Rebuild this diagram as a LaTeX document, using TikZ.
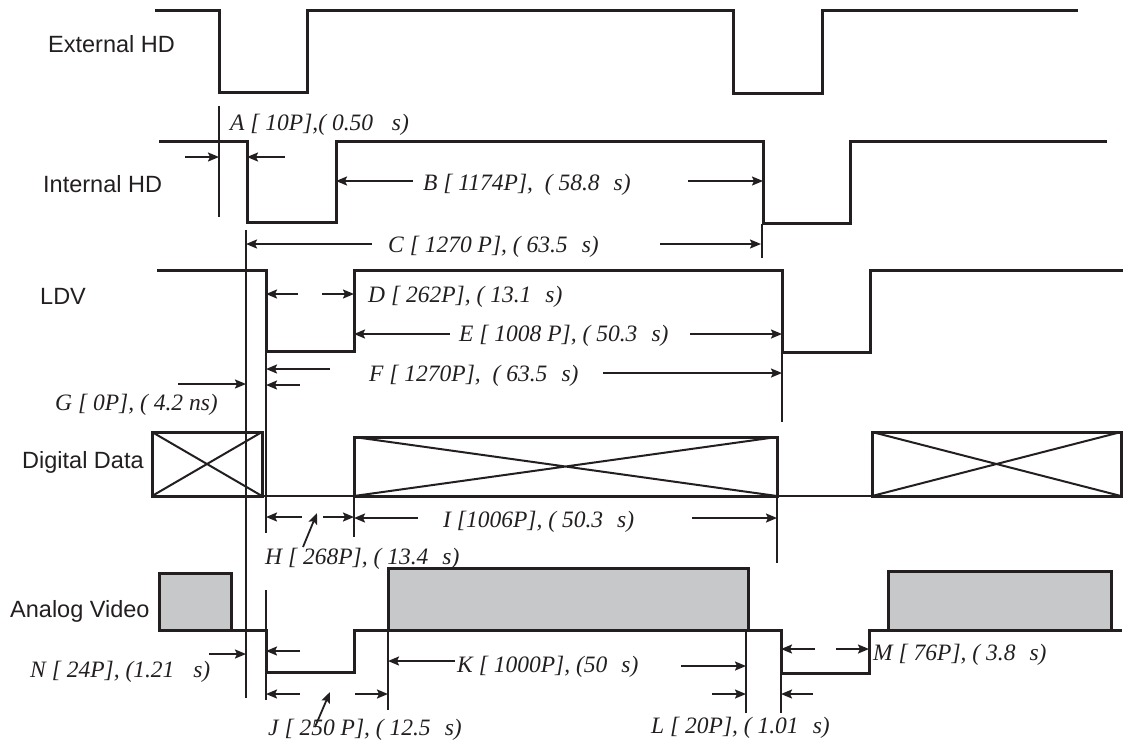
\documentclass[tikz,border=0pt]{standalone}
\usepackage{fontspec}
\setmainfont{Liberation Serif}
\newfontfamily\arialf{Liberation Sans}
\usetikzlibrary{arrows.meta}
\definecolor{ink}{HTML}{231F20}
\definecolor{vid}{HTML}{C7C8CA}
\begin{document}
\begin{tikzpicture}[x=1pt,y=-1pt,
  sig/.style={draw=ink,line width=3pt,line join=miter},
  refline/.style={draw=ink,line width=1.3pt},
  dimarrow/.style={draw=ink,line width=1.8pt,-{Stealth[length=11pt,width=9pt,inset=2pt]}},
  lab/.style={anchor=base west,inner sep=0pt,text=ink,font=\fontsize{23.5}{28}\selectfont\itshape},
  signame/.style={anchor=base west,inner sep=0pt,text=ink,font=\arialf\fontsize{23.5}{28}\selectfont},
  xbox/.style={draw=ink,line width=3pt},
  xdiag/.style={draw=ink,line width=2pt},
  vbox/.style={draw=ink,fill=vid,line width=3pt},
]
\useasboundingbox (0,0) rectangle (1123,740);

% ---- signal names
\node[signame] (nExt) at (48,52) {External HD};
\node[signame] (nInt) at (43,192) {Internal HD};
\node[signame] (nLDV) at (40,304) {LDV};
\node[signame] (nDig) at (22,468) {Digital Data};
\node[signame] (nAna) at (10,617) {Analog Video};

% ---- waveforms
\draw[sig] (155,10) -- (219,10) -- (219,92) -- (307,92) -- (307,10) -- (733,10) -- (733,93) -- (822,93) -- (822,10) -- (1078,10);
\draw[sig] (159,141) -- (247,141) -- (247,222) -- (336,222) -- (336,141) -- (763,141) -- (763,223) -- (850,223) -- (850,141) -- (1107,141);
\draw[sig] (157,270) -- (266,270) -- (266,351) -- (354,351) -- (354,270) -- (782,270) -- (782,352) -- (870,352) -- (870,270) -- (1123,270);

% digital data
\draw[refline] (262,496) -- (354,496);
\draw[refline] (777,496) -- (872,496);
\draw[xbox] (152,432) rectangle (262,496);
\draw[xdiag] (152,432) -- (262,496) (152,496) -- (262,432);
\draw[xbox] (354,437) rectangle (777,496);
\draw[xdiag] (354,437) -- (777,496) (354,496) -- (777,437);
\draw[xbox] (872,432) rectangle (1121,496);
\draw[xdiag] (872,432) -- (1121,496) (872,496) -- (1121,432);

% analog video
\draw[vbox] (159,573) rectangle (231,630);
\draw[vbox] (388,568) rectangle (748,630);
\draw[vbox] (888,571) rectangle (1111,630);
\draw[sig] (158,630) -- (266,630) -- (266,672) -- (354,672) -- (354,630) -- (781,630) -- (781,673) -- (869,673) -- (869,630) -- (1122,630);

% ---- reference lines
\draw[refline] (219,106) -- (219,217);
\draw[refline] (246,230) -- (246,698);
\draw[refline] (762,224) -- (762,258);
\draw[refline] (266,351) -- (266,533);
\draw[refline] (782,352) -- (782,422);
\draw[refline] (354,496) -- (354,537);
\draw[refline] (777,496) -- (777,563);
\draw[refline] (266,590) -- (266,700);
\draw[refline] (388,630) -- (388,710);
\draw[refline] (746,630) -- (746,713);
\draw[refline] (781,673) -- (781,713);

% ---- dimension arrows
% A
\draw[dimarrow] (185,157) -- (219,157);
\draw[dimarrow] (285,157) -- (247,157);
% B
\draw[dimarrow] (413,181) -- (336,181);
\draw[dimarrow] (688,181) -- (763,181);
% C
\draw[dimarrow] (372,244) -- (246,244);
\draw[dimarrow] (660,244) -- (761,244);
% D
\draw[dimarrow] (298,294) -- (266,294);
\draw[dimarrow] (322,294) -- (354,294);
% E
\draw[dimarrow] (450,334) -- (354,334);
\draw[dimarrow] (690,334) -- (782,334);
% F
\draw[dimarrow] (330,369) -- (266,369);
\draw[dimarrow] (300,385) -- (266,385);
\draw[dimarrow] (603,373) -- (782,373);
% G
\draw[dimarrow] (178,384) -- (246,384);
% H
\draw[dimarrow] (302,517) -- (266,517);
\draw[dimarrow] (323,517) -- (354,517);
\draw[dimarrow] (303,547) -- (317,513);
% I
\draw[dimarrow] (418,518) -- (354,518);
\draw[dimarrow] (692,518) -- (777,518);
% J
\draw[dimarrow] (300,694) -- (266,694);
\draw[dimarrow] (355,694) -- (388,694);
\draw[dimarrow] (315,727) -- (330,692);
% K
\draw[dimarrow] (455,661) -- (388,661);
\draw[dimarrow] (681,666) -- (746,666);
% L
\draw[dimarrow] (712,694) -- (746,694);
\draw[dimarrow] (813,694) -- (781,694);
% M
\draw[dimarrow] (815,649) -- (781,649);
\draw[dimarrow] (836,649) -- (869,649);
% N
\draw[dimarrow] (209,654) -- (246,654);
\draw[dimarrow] (300,651) -- (266,651);

% ---- labels
\node[lab] (lA) at (230,130) {A [ 10P],( 0.50\hspace{0.8em}s)};
\node[lab] (lB) at (423,190) {B [ 1174P],\ \ ( 58.8\hspace{0.6em}s)};
\node[lab] (lC) at (388,252) {C [ 1270 P], ( 63.5\hspace{0.6em}s)};
\node[lab] (lD) at (368,302) {D [ 262P], ( 13.1\hspace{0.6em}s)};
\node[lab] (lE) at (459,341) {E [ 1008 P], ( 50.3\hspace{0.6em}s)};
\node[lab] (lF) at (369,381) {F [ 1270P],\ \ ( 63.5\hspace{0.6em}s)};
\node[lab] (lG) at (55,410) {G [ 0P], ( 4.2 ns)};
\node[lab] (lH) at (265,564) {H [ 268P], ( 13.4\hspace{0.6em}s)};
\node[lab] (lI) at (443,527) {I [1006P], ( 50.3\hspace{0.6em}s)};
\node[lab] (lJ) at (268,735) {J [ 250 P], ( 12.5\hspace{0.6em}s)};
\node[lab] (lK) at (457,672) {K [ 1000P], (50\hspace{0.6em}s)};
\node[lab] (lL) at (651,733) {L [ 20P], ( 1.01\hspace{0.6em}s)};
\node[lab] (lM) at (873,660) {M [ 76P], ( 3.8\hspace{0.6em}s)};
\node[lab] (lN) at (30,677) {N [ 24P], (1.21\hspace{0.8em}s)};
\end{tikzpicture}
\end{document}
